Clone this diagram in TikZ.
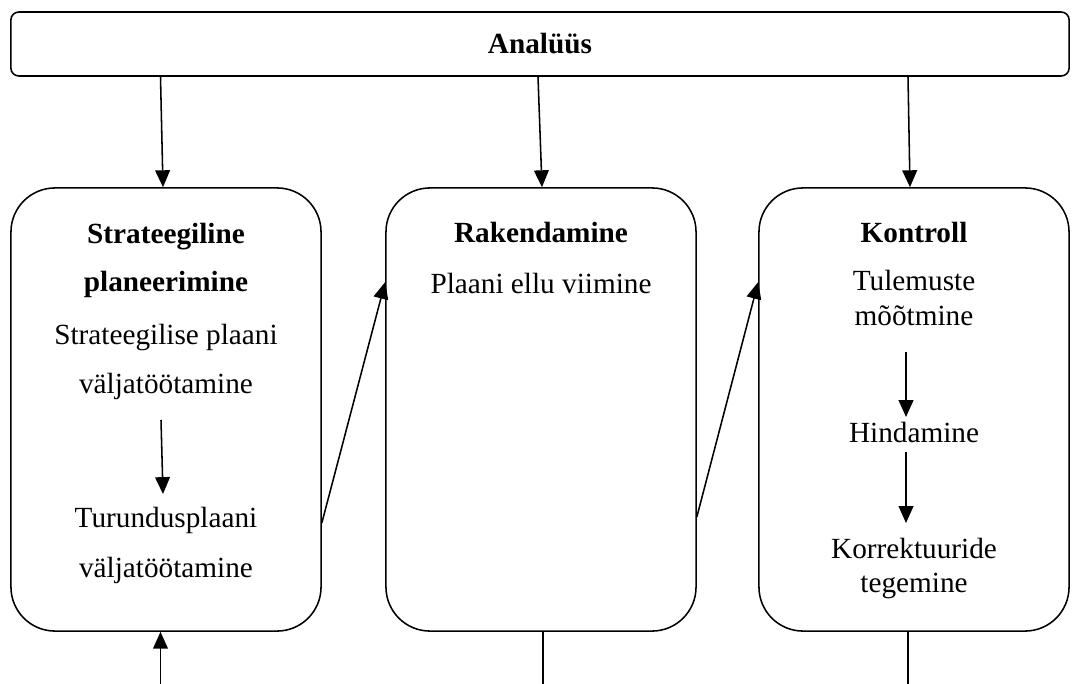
\documentclass[tikz,border=0pt]{standalone}
\usepackage{fontspec}
\setmainfont{Liberation Serif}
\usetikzlibrary{arrows.meta,positioning,calc}

\tikzset{
  phase/.style={draw,line width=1.1pt,rounded corners=1.1cm,inner sep=0pt,
    minimum width=7.75cm,minimum height=11.075cm},
  lbl/.style={anchor=base,inner sep=0pt,font=\fontsize{20.8}{24}\selectfont},
  hdr/.style={lbl,font=\fontsize{20.8}{24}\selectfont\bfseries},
  arr/.style={line width=1.1pt,-{Triangle[length=12pt,width=10.5pt]}}
}

\begin{document}
\begin{tikzpicture}[x=0.025cm,y=-0.025cm]
  \useasboundingbox (0,0) rectangle (1079,684);
  % Top bar
  \node[draw,line width=1.1pt,rounded corners=0.2cm,inner sep=0pt,
    minimum width=26.45cm,minimum height=1.6cm,
    font=\fontsize{20.8}{24}\selectfont\bfseries] (analyys) at (540,44) {Analüüs};
  % Three phases
  \node[phase] (strat) at (166,409.5) {};
  \node[phase] (rak) at (541,409.5) {};
  \node[phase] (kontr) at (914,409.5) {};
  % Texts of the left phase
  \node[hdr] (s1) at (166,243) {Strateegiline};
  \node[hdr] (s2) at (166,291) {planeerimine};
  \node[lbl] (s3) at (166,344) {Strateegilise plaani};
  \node[lbl] (s4) at (166,393) {väljatöötamine};
  \node[lbl] (s5) at (166,527) {Turundusplaani};
  \node[lbl] (s6) at (166,577) {väljatöötamine};
  % Texts of the middle phase
  \node[hdr] (r1) at (541,242) {Rakendamine};
  \node[lbl] (r2) at (541,293) {Plaani ellu viimine};
  % Texts of the right phase
  \node[hdr] (k1) at (914,242) {Kontroll};
  \node[lbl] (k2) at (914,290) {Tulemuste};
  \node[lbl] (k3) at (914,325) {mõõtmine};
  \node[lbl] (k4) at (914,442) {Hindamine};
  \node[lbl] (k5) at (914,558) {Korrektuuride};
  \node[lbl] (k6) at (914,592) {tegemine};
  % Arrows from the top bar
  \foreach \b/\u/\v in {strat/-5.5/-3, rak/-3/1, kontr/-6/-4}{
    \draw[arr] ($(analyys.south -| \b.north)+(\u,0)$) -- ($(\b.north)+(\v,0)$);
  }
  % Arrows inside the phases
  \draw[arr] ($(s4.base)+(-5,27)$) -- ($(s5.base)+(-3,-33)$);
  \draw[arr] ($(k3.base)+(-8,27)$) -- ($(k4.base)+(-8,-25)$);
  \draw[arr] ($(k4.base)+(-8,10)$) -- ($(k5.base)+(-8,-35)$);
  % Arrows between the phases
  \draw[arr] ($(strat.east)+(0,113.5)$) -- ($(rak.west)+(0,-127.5)$);
  \draw[arr] ($(rak.east)+(0,107.5)$) -- ($(kontr.west)+(0,-127.5)$);
  % Lines at the bottom
  \coordinate (b1) at (160.5,684);
  \coordinate (b2) at (543,684);
  \coordinate (b3) at (908,684);
  \draw[arr] (b1) -- (strat.south -| b1);
  \draw[line width=1.1pt] (rak.south -| b2) -- (b2);
  \draw[line width=1.1pt] (kontr.south -| b3) -- (b3);
\end{tikzpicture}
\end{document}
